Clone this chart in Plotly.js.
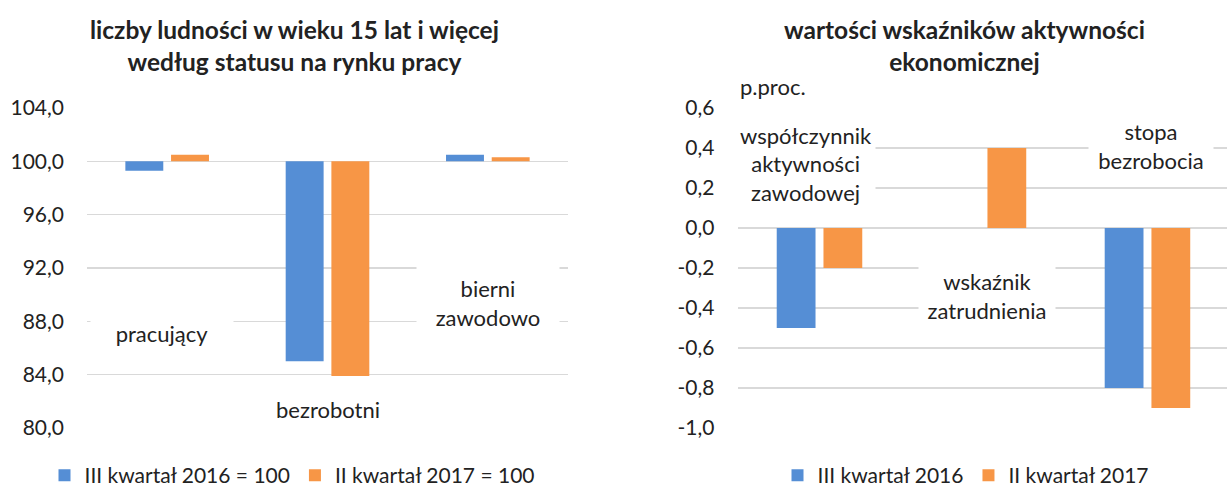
<!DOCTYPE html>
<html><head><meta charset="utf-8">
<script src="https://cdn.plot.ly/plotly-3.0.1.min.js"></script>
<style>html,body{margin:0;padding:0;background:#fff;}#chart{width:1227px;height:489px;}</style>
</head><body><div id="chart"></div>
<script>
// ---- data ----
const leftCategories = ['pracujący', 'bezrobotni', 'bierni zawodowo'];
const leftSeriesA = [99.3, 85.0, 100.5];   // III kwartał 2016 = 100
const leftSeriesB = [100.5, 83.9, 100.3];  // II kwartał 2017 = 100
const leftNames = ['III kwartał 2016 = 100', 'II kwartał 2017 = 100'];
const leftTicks = [80, 84, 88, 92, 96, 100, 104];
const leftBase = 100;

const rightCategories = ['współczynnik aktywności zawodowej', 'wskaźnik zatrudnienia', 'stopa bezrobocia'];
const rightSeriesA = [-0.5, 0.0, -0.8];   // III kwartał 2016
const rightSeriesB = [-0.2, 0.4, -0.9];   // II kwartał 2017
const rightNames = ['III kwartał 2016', 'II kwartał 2017'];
const rightTicks = [-1.0, -0.8, -0.6, -0.4, -0.2, 0.0, 0.2, 0.4, 0.6];

const leftTitle = 'liczby ludności w wieku 15 lat i więcej<br>według statusu na rynku pracy';
const rightTitle = 'wartości wskaźników aktywności<br>ekonomicznej';
const rightUnit = 'p.proc.';

// ---- styling ----
const W = 1227, H = 489;
const BLUE = '#558ED5', ORANGE = '#F79646';
const FONT = 'Lato, "Open Sans", sans-serif';
const fmt = v => v.toFixed(1).replace('.', ',');
const px = x => x / W;
const py = y => 1 - y / H;

const traces = [
  {type: 'bar', x: leftCategories, y: leftSeriesA.map(v => v - leftBase), base: leftBase,
   name: leftNames[0], marker: {color: BLUE}, xaxis: 'x', yaxis: 'y', legend: 'legend',
   customdata: leftSeriesA, hovertemplate: '%{customdata}<extra></extra>'},
  {type: 'bar', x: leftCategories, y: leftSeriesB.map(v => v - leftBase), base: leftBase,
   name: leftNames[1], marker: {color: ORANGE}, xaxis: 'x', yaxis: 'y', legend: 'legend',
   customdata: leftSeriesB, hovertemplate: '%{customdata}<extra></extra>'},
  {type: 'bar', x: rightCategories, y: rightSeriesA, name: rightNames[0],
   marker: {color: BLUE}, xaxis: 'x2', yaxis: 'y2', legend: 'legend2'},
  {type: 'bar', x: rightCategories, y: rightSeriesB, name: rightNames[1],
   marker: {color: ORANGE}, xaxis: 'x2', yaxis: 'y2', legend: 'legend2'}
];

const gridColor = '#D9D9D9';
const yDomain = [py(428), py(108)];
const baseY = {
  domain: yDomain, showgrid: true, gridcolor: gridColor, gridwidth: 1.3,
  zeroline: false, showline: false, ticks: '', ticklabelstandoff: 22,
  tickfont: {size: 21, color: '#222', family: FONT}, fixedrange: true, automargin: false
};
const baseX = {showticklabels: false, showgrid: false, zeroline: false, showline: false,
  ticks: '', type: 'category', fixedrange: true, automargin: false};

const boxAnn = (xref, yref, x, y, text, w, h) => ({
  xref: xref, yref: yref, x: x, y: y, text: text, showarrow: false,
  font: {size: 22, color: '#222', family: FONT}, bgcolor: '#fff',
  width: w, height: h, align: 'center', xanchor: 'center', yanchor: 'middle'
});

const layout = {
  width: W, height: H,
  margin: {l: 0, r: 0, t: 0, b: 0, autoexpand: false},
  paper_bgcolor: '#fff', plot_bgcolor: '#fff',
  font: {family: FONT, size: 21, color: '#222'},
  barmode: 'group', bargap: 0.43, bargroupgap: 0.17,
  xaxis: Object.assign({}, baseX, {domain: [px(87), px(568)], range: [-0.5, 2.5], anchor: 'y'}),
  yaxis: Object.assign({}, baseY, {anchor: 'x', range: [80, 104],
    tickvals: leftTicks, ticktext: leftTicks.map(fmt)}),
  xaxis2: Object.assign({}, baseX, {domain: [px(737.5), 1], range: [-0.5, 2.485], anchor: 'y2'}),
  yaxis2: Object.assign({}, baseY, {anchor: 'x2', range: [-1.0, 0.6],
    tickvals: rightTicks, ticktext: rightTicks.map(fmt)}),
  legend: {orientation: 'h', x: px(292), xanchor: 'center', y: py(496), yanchor: 'bottom',
    font: {size: 21, family: FONT, color: '#222'}, itemwidth: 30, traceorder: 'normal',
    bgcolor: 'rgba(0,0,0,0)', borderwidth: 0, tracegroupgap: 0},
  legend2: {orientation: 'h', x: px(966), xanchor: 'center', y: py(496), yanchor: 'bottom',
    font: {size: 21, family: FONT, color: '#222'}, itemwidth: 30, traceorder: 'normal',
    bgcolor: 'rgba(0,0,0,0)', borderwidth: 0, tracegroupgap: 0},
  annotations: [
    {xref: 'paper', yref: 'paper', x: px(294), y: py(45), text: '<b>' + leftTitle + '</b>',
     showarrow: false, font: {size: 24.5, family: FONT, color: '#222'}, xanchor: 'center', yanchor: 'middle', align: 'center'},
    {xref: 'paper', yref: 'paper', x: px(964), y: py(45), text: '<b>' + rightTitle + '</b>',
     showarrow: false, font: {size: 24.5, family: FONT, color: '#222'}, xanchor: 'center', yanchor: 'middle', align: 'center'},
    {xref: 'paper', yref: 'paper', x: px(738), y: py(86), text: rightUnit, showarrow: false,
     font: {size: 22, family: FONT, color: '#222'}, xanchor: 'left', yanchor: 'middle'},
    boxAnn('x', 'y', -0.03, 87.1, 'pracujący', 140, 46),
    boxAnn('x', 'y', 1.0, 81.4, 'bezrobotni', 120, 30),
    boxAnn('x', 'y', 2.0, 89.4, 'bierni<br>zawodowo', 140, 76),
    boxAnn('x2', 'y2', -0.08, 0.32, 'współczynnik<br>aktywności<br>zawodowej', 136, 94),
    boxAnn('x2', 'y2', 1.02, -0.34, 'wskaźnik<br>zatrudnienia', 134, 64),
    boxAnn('x2', 'y2', 2.02, 0.41, 'stopa<br>bezrobocia', 122, 76)
  ]
};

Plotly.newPlot('chart', traces, layout, {displayModeBar: false, staticPlot: true});
</script>
</body></html>
